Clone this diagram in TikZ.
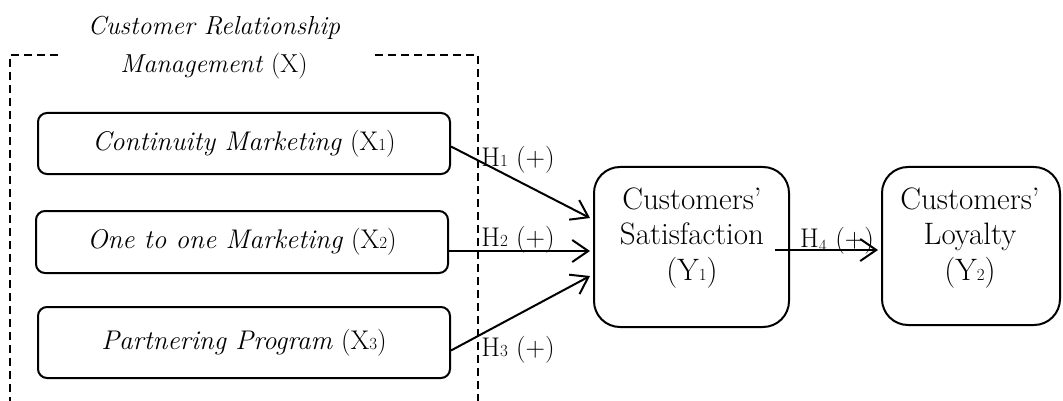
\documentclass[tikz,border=0pt]{standalone}
\usetikzlibrary{arrows.meta,calc}
\newcommand{\sd}[1]{{\fontsize{17}{17}\selectfont #1}}
\begin{document}
\begin{tikzpicture}[x=1pt,y=-1pt,
  every node/.style={font=\fontsize{27}{35}\selectfont},
  xbox/.style={draw,line width=2pt,rounded corners=9pt,minimum width=412pt,inner sep=0pt},
  ybox/.style={draw,line width=2pt,rounded corners=26pt,inner sep=0pt,align=center},
  ytext/.style={align=center,font=\fontsize{31}{35.5}\selectfont},
  grp/.style={dashed,line width=1.6pt,dash pattern=on 8pt off 5pt},
  arr/.style={line width=2pt,-{Straight Barb[length=16pt,width=22pt,line width=2pt]}},
  hlab/.style={font=\fontsize{27}{30}\selectfont,inner sep=0pt}]
\useasboundingbox (0,0) rectangle (1063,401);
% group outline
\draw[grp] (58,55) -- (10,55) -- (10,405);
\draw[grp] (375,55) -- (478,55) -- (478,405);
\node[align=center,font=\fontsize{26}{38}\selectfont] (title) at (214,48) {\textit{Customer Relationship}\\\textit{Management} (X)};
% boxes
\node[xbox,minimum height=61pt] (x1) at (244,143.5) {\textit{Continuity Marketing} (X\sd{1})};
\node[xbox,minimum height=62pt] (x2) at (242,242) {\textit{One to one Marketing} (X\sd{2})};
\node[xbox,minimum height=71pt] (x3) at (244,342.5) {\textit{Partnering Program} (X\sd{3})};
\node[ybox,minimum width=195pt,minimum height=160pt] (y1) at (691.5,247) {};
\node[ybox,minimum width=178pt,minimum height=158pt] (y2) at (971,246) {};
\node[ytext] (y1t) at (692,238) {Customers’\\Satisfaction\\(Y\sd{1})};
\node[ytext] (y2t) at (970,238) {Customers’\\Loyalty\\(Y\sd{2})};
% arrows
\draw[arr] ($(x1.east)+(0,3)$) -- ($(y1.west)+(-3,-29)$);
\draw[arr] ($(x2.east)+(0,9)$) -- ($(y1.west)+(-3,4)$);
\draw[arr] ($(x3.east)+(0,8)$) -- ($(y1.west)+(-3,29)$);
\coordinate (h4s) at (775,250);
\draw[arr,shorten >=3pt] (h4s) -- (h4s -| y2.west);
% labels
\node[hlab] (h1) at (518,160) {H\sd{1} (+)};
\node[hlab] (h2) at (518,240) {H\sd{2} (+)};
\node[hlab] (h3) at (518,350) {H\sd{3} (+)};
\node[hlab] (h4) at (837,241) {H$_{\mbox{\sd{4}}}$ (+)};
\end{tikzpicture}
\end{document}
